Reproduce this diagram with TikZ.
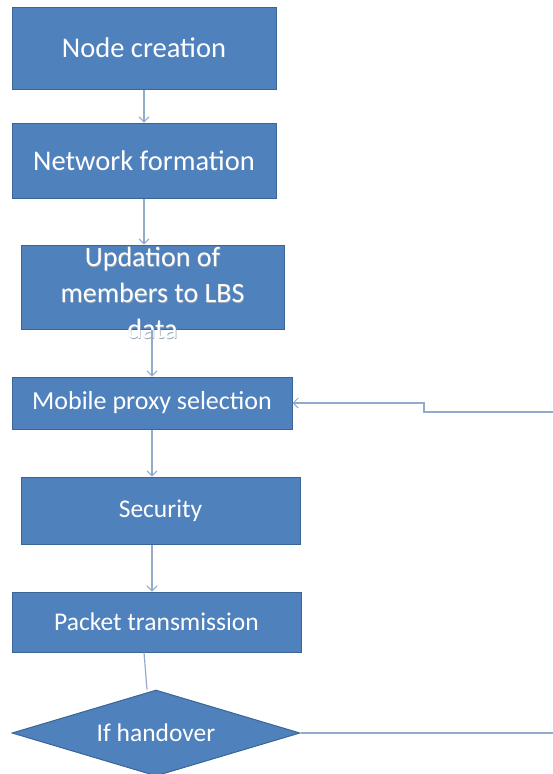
\documentclass[tikz,border=0pt]{standalone}
\usepackage{fontspec}
\setmainfont{Carlito}
\usetikzlibrary{shapes.geometric,arrows.meta,calc}
\definecolor{boxblue}{HTML}{4F81BD}
\definecolor{boxedge}{HTML}{3A6597}
\definecolor{linec}{HTML}{93ABCB}
\definecolor{shadowc}{HTML}{9AA8B8}
\newcommand{\updtext}{\begin{tabular}{@{}c@{}}Updation of\\members to LBS\\data\end{tabular}}
\begin{document}
\begin{tikzpicture}[x=1pt,y=-1pt,
  box/.style={draw=boxedge,line width=1pt,fill=boxblue,text=white,inner sep=0pt,align=center},
  conn/.style={draw=linec,line width=1.2pt},
  arr/.style={conn,-{Straight Barb[length=5pt,width=10pt,line width=1pt]}}]
\clip (0,0) rectangle (553,774);
\fill[white] (0,0) rectangle (553,774);
\node[box,minimum width=264pt,minimum height=82pt,font=\fontsize{28.5}{32}\selectfont] (b1) at (144,48) {Node creation};
\node[box,minimum width=264pt,minimum height=75pt,font=\fontsize{28.5}{32}\selectfont] (b2) at (144,160.5) {Network formation};
\node[box,minimum width=263pt,minimum height=84pt,font=\fontsize{28}{36}\selectfont] (b3) at (152.5,287)
  {\makebox[0pt]{\smash{\raisebox{-1.1ex}{\makebox[0pt]{\hspace{1.2pt}\raisebox{-1.2pt}{\textcolor{shadowc}{\updtext}}}\makebox[0pt]{\updtext}}}}};
\node[box,minimum width=280pt,minimum height=52pt,font=\fontsize{26}{30}\selectfont] (b4) at (152,403) {Mobile proxy selection};
\node[box,minimum width=279pt,minimum height=67pt,font=\fontsize{25.5}{30}\selectfont] (b5) at (160.5,510.5) {Security};
\node[box,minimum width=289pt,minimum height=60pt,font=\fontsize{25.5}{30}\selectfont] (b6) at (156.5,622) {Packet transmission};
\node[box,shape=diamond,minimum width=288pt,minimum height=86pt,aspect=3.35,font=\fontsize{25.5}{30}\selectfont] (d) at (156,733) {If handover};
\coordinate (r1) at (553,733);
\coordinate (r2) at (553,412);
\coordinate (k) at (424,412);
\draw[arr] (b1.south) -- (b2.north);
\draw[arr] (b2.south) -- (b2.south |- b3.north);
\draw[arr] (b3.south -| b4.north) -- (b4.north);
\draw[arr] (b4.south) -- (b4.south |- b5.north);
\draw[arr] (b5.south -| b4.south) -- (b6.north -| b4.south);
\draw[conn] ($(b6.south)+(-12.5,0)$) -- ($(d.north)+(-9,0)$);
\draw[conn] (d.east) -- (r1);
\draw[arr] (r2) -- (k) -- (k |- b4.east) -- (b4.east);
\end{tikzpicture}
\end{document}
